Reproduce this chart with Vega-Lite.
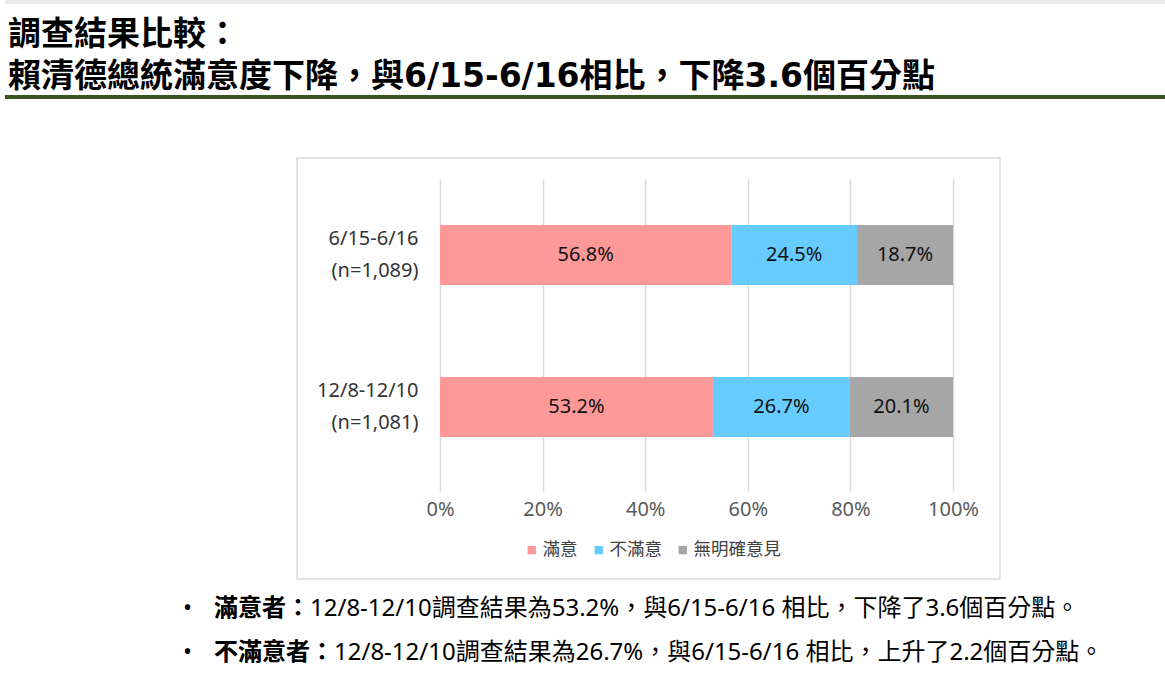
{
  "$schema": "https://vega.github.io/schema/vega-lite/v6.json",
  "background": "white",
  "padding": {"left": 5, "top": 0, "right": 0, "bottom": 0},
  "datasets": {
    "bars": [
      {"period": "6/15-6/16 (n=1,089)", "group": "滿意", "pct": 56.8},
      {"period": "6/15-6/16 (n=1,089)", "group": "不滿意", "pct": 24.5},
      {"period": "6/15-6/16 (n=1,089)", "group": "無明確意見", "pct": 18.7},
      {"period": "12/8-12/10 (n=1,081)", "group": "滿意", "pct": 53.2},
      {"period": "12/8-12/10 (n=1,081)", "group": "不滿意", "pct": 26.7},
      {"period": "12/8-12/10 (n=1,081)", "group": "無明確意見", "pct": 20.1}
    ],
    "notes": [
      {"label": "滿意者：", "text": "12/8-12/10調查結果為53.2%，與6/15-6/16 相比，下降了3.6個百分點。"},
      {"label": "不滿意者：", "text": "12/8-12/10調查結果為26.7%，與6/15-6/16 相比，上升了2.2個百分點。"}
    ]
  },
  "spacing": 58,
  "vconcat": [
    {
      "spacing": 15,
      "vconcat": [
        {
          "data": {"values": [{}]},
          "width": 1160,
          "height": 4,
          "view": {"fill": "#ececec", "stroke": null},
          "mark": {"type": "rect", "color": "#ececec"},
          "encoding": {}
        },
        {
          "title": {
            "text": ["調查結果比較：", "賴清德總統滿意度下降，與6/15-6/16相比，下降3.6個百分點"],
            "anchor": "start",
            "font": "DejaVu Sans, Noto Sans CJK TC",
            "fontSize": 33,
            "fontWeight": "bold",
            "lineHeight": 42,
            "color": "black",
            "dx": 3,
            "offset": 1
          },
          "data": {"values": [{}]},
          "width": 1160,
          "height": 4,
          "view": {"fill": "#375623", "stroke": null},
          "mark": {"type": "rect", "color": "#375623"},
          "encoding": {}
        }
      ]
    },
    {
      "spacing": 7,
      "vconcat": [
        {
          "spacing": 0,
          "hconcat": [
            {
              "data": {"values": [{}]},
              "width": 291,
              "height": 421,
              "mark": {"type": "rect", "opacity": 0},
              "encoding": {}
            },
            {
              "width": 703,
              "height": 421,
              "view": {"stroke": "#d9d9d9", "strokeWidth": 1.5},
              "data": {"name": "bars"},
              "transform": [
                {"calculate": "indexof(['滿意','不滿意','無明確意見'], datum.group)", "as": "order"},
                {"stack": "pct", "groupby": ["period"], "sort": [{"field": "order", "order": "ascending"}], "as": ["x0", "x1"]},
                {"calculate": "(datum.x0 + datum.x1) / 2", "as": "mid"},
                {"calculate": "format(datum.pct, '.1f') + '%'", "as": "pctLabel"}
              ],
              "encoding": {
                "y": {
                  "field": "period",
                  "type": "nominal",
                  "sort": null,
                  "scale": {"range": [21, 333], "paddingInner": 0.605, "paddingOuter": 0.329, "align": 0.46},
                  "axis": {
                    "orient": "left",
                    "offset": -143,
                    "labelPadding": 22,
                    "labelExpr": "split(datum.label, ' ')",
                    "labelLineHeight": 32,
                    "labelOffset": -16,
                    "labelFontSize": 20,
                    "labelColor": "#333333",
                    "labelAlign": "right",
                    "labelBaseline": "middle",
                    "ticks": false,
                    "domain": false,
                    "grid": false,
                    "title": null
                  }
                }
              },
              "layer": [
                {
                  "mark": {"type": "bar"},
                  "encoding": {
                    "x": {
                      "field": "x0",
                      "type": "quantitative",
                      "scale": {"domain": [0, 100], "range": [143, 656], "nice": false},
                      "axis": {
                        "orient": "top",
                        "values": [0, 20, 40, 60, 80, 100],
                        "labels": false,
                        "ticks": false,
                        "domain": false,
                        "grid": true,
                        "gridColor": "#d9d9d9",
                        "gridWidth": 1.5,
                        "title": null
                      }
                    },
                    "x2": {"field": "x1"},
                    "color": {
                      "field": "group",
                      "type": "nominal",
                      "scale": {"domain": ["滿意", "不滿意", "無明確意見"], "range": ["#FF9999", "#66CCFF", "#A6A6A6"]},
                      "legend": {
                        "orient": "none",
                        "legendX": 518,
                        "legendY": 541,
                        "direction": "horizontal",
                        "title": null,
                        "symbolType": "square",
                        "symbolSize": 70,
                        "symbolStrokeWidth": 0,
                        "labelFontSize": 17.5,
                        "labelColor": "#404040",
                        "columnPadding": 12,
                        "labelOffset": 2
                      }
                    }
                  }
                },
                {
                  "mark": {"type": "text", "fontSize": 20, "color": "#111111"},
                  "encoding": {
                    "x": {
                      "field": "mid",
                      "type": "quantitative",
                      "axis": {
                        "orient": "bottom",
                        "offset": -88,
                        "values": [0, 20, 40, 60, 80, 100],
                        "labelExpr": "datum.value + '%'",
                        "labelFlush": false,
                        "grid": false,
                        "ticks": false,
                        "domain": false,
                        "labelPadding": 8,
                        "labelFontSize": 20,
                        "labelColor": "#595959",
                        "title": null
                      }
                    },
                    "text": {"field": "pctLabel"}
                  }
                }
              ],
              "resolve": {"axis": {"x": "independent"}}
            }
          ]
        },
        {
          "width": 418,
          "height": 88,
          "data": {"name": "notes"},
          "transform": [{"calculate": "datum.label + datum.text", "as": "line"}],
          "encoding": {
            "y": {"field": "label", "type": "ordinal", "sort": null, "scale": {"type": "point", "padding": 0.5}, "axis": null}
          },
          "layer": [
            {"mark": {"type": "text", "text": "•", "align": "right", "dx": -22, "fontSize": 24, "color": "black"}},
            {"mark": {"type": "text", "align": "left", "fontSize": 24, "color": "black"}, "encoding": {"text": {"field": "line"}}},
            {"mark": {"type": "text", "align": "left", "fontSize": 24, "fontWeight": "bold", "color": "black"}, "encoding": {"text": {"field": "label"}}}
          ]
        }
      ]
    }
  ],
  "config": {
    "font": "Noto Sans, Noto Sans CJK TC",
    "view": {"stroke": null}
  }
}
